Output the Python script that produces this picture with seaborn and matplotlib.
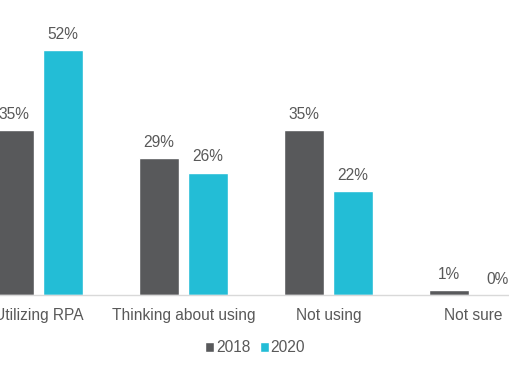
import pandas as pd
import matplotlib.pyplot as plt
import seaborn as sns

categories = ['Utilizing RPA', 'Thinking about using', 'Not using', 'Not sure']
years = ['2018', '2020']
values_2018 = [35, 29, 35, 1]
values_2020 = [52, 26, 22, 0]

df = pd.DataFrame({
    'category': categories * 2,
    'year': [years[0]] * 4 + [years[1]] * 4,
    'value': values_2018 + values_2020,
})

sns.set_style('white')
plt.rcParams['font.family'] = ['Liberation Sans', 'DejaVu Sans']
text_color = '#595959'
fs = 11.2

fig = plt.figure(figsize=(5.1, 3.82), dpi=100)
ax = fig.add_axes([0, 0.2277, 1, 0.74])

sns.barplot(data=df, x='category', y='value', hue='year',
            palette=['#58595B', '#23BDD6'], width=0.676, gap=0.2,
            saturation=1, ax=ax)

for c in ax.containers:
    ax.bar_label(c, fmt='%.0f%%', padding=6, fontsize=fs, color=text_color)

ax.set_xlim(-0.2655, 3.252)
ax.set_ylim(0, 60)
ax.set_xlabel('')
ax.set_ylabel('')
ax.set_yticks([])
for s in ['top', 'right', 'left']:
    ax.spines[s].set_visible(False)
ax.spines['bottom'].set_color('#D9D9D9')
ax.spines['bottom'].set_linewidth(1)
ax.tick_params(axis='x', length=0, pad=9, labelsize=fs, labelcolor=text_color)

ax.legend(loc='upper center', bbox_to_anchor=(0.5, -0.11), ncol=2, frameon=False,
          fontsize=fs, labelcolor=text_color, handlelength=0.6, handleheight=0.6,
          handletextpad=0.1, columnspacing=0.6)

plt.savefig('out.png', dpi=100)
